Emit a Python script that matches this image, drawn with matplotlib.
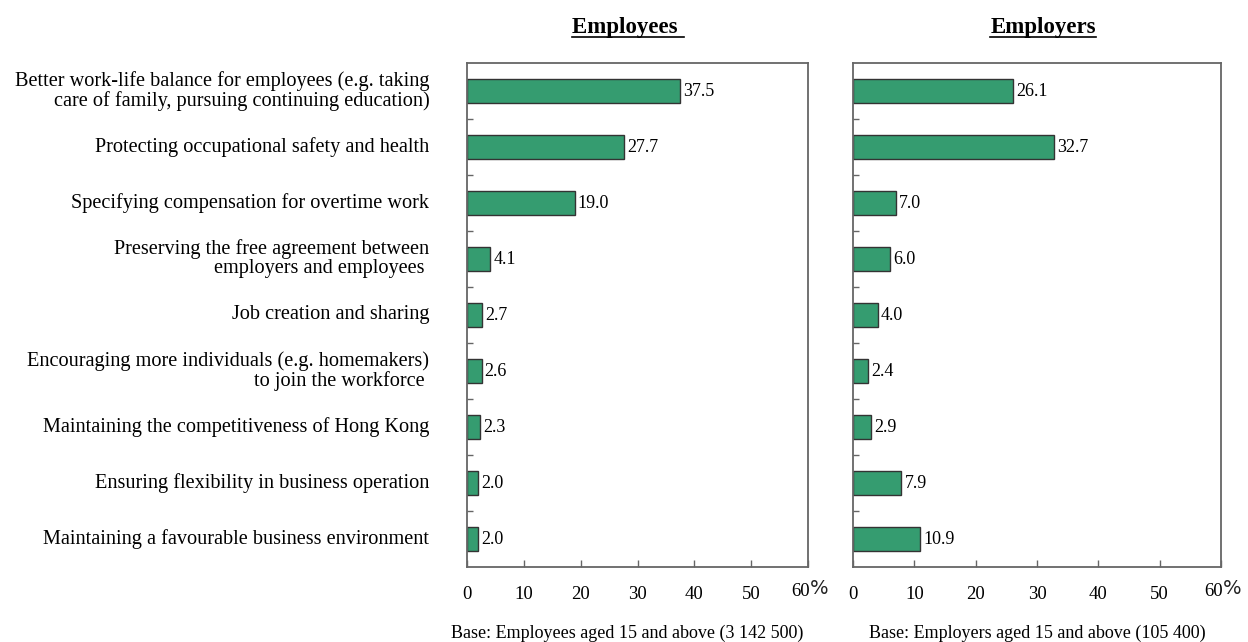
import matplotlib

matplotlib.use("Agg")
import matplotlib.pyplot as plt
from matplotlib.lines import Line2D
from matplotlib.ticker import FixedLocator
from matplotlib.transforms import offset_copy

plt.rcParams["font.family"] = ["Liberation Serif", "DejaVu Serif"]

categories = [
    "Better work-life balance for employees (e.g. taking\ncare of family, pursuing continuing education)",
    "Protecting occupational safety and health",
    "Specifying compensation for overtime work",
    "Preserving the free agreement between\nemployers and employees ",
    "Job creation and sharing",
    "Encouraging more individuals (e.g. homemakers)\nto join the workforce ",
    "Maintaining the competitiveness of Hong Kong",
    "Ensuring flexibility in business operation",
    "Maintaining a favourable business environment",
]
employees = [37.5, 27.7, 19.0, 4.1, 2.7, 2.6, 2.3, 2.0, 2.0]
employers = [26.1, 32.7, 7.0, 6.0, 4.0, 2.4, 2.9, 7.9, 10.9]
titles = ["Employees ", "Employers"]
bases = [
    "Base: Employees aged 15 and above (3 142 500)",
    "Base: Employers aged 15 and above (105 400)",
]
xticks = [0, 10, 20, 30, 40, 50, 60]

BAR_COLOR = "#359c70"
SPINE_COLOR = "#666666"

W, H = 1248, 642
fig = plt.figure(figsize=(W / 100, H / 100), dpi=100)

# axes boxes in pixels: left, right, top, bottom
boxes = [(467, 808, 63, 567), (853, 1221, 63, 567)]
title_x = [628, 1043]
base_x = [627, 1037]
axes = []
for (l, r, t, b) in boxes:
    axes.append(fig.add_axes([l / W, 1 - b / H, (r - l) / W, (b - t) / H]))

n = len(categories)
ypos = list(range(n))

for i, (ax, vals) in enumerate(zip(axes, [employees, employers])):
    ax.barh(ypos, vals, height=0.42, color=BAR_COLOR, edgecolor="#333333", linewidth=1.0)
    for y, v in zip(ypos, vals):
        ax.text(v + 0.5, y, f"{v:.1f}", va="center", ha="left", fontsize=13)
    ax.set_xlim(0, 60)
    ax.set_ylim(n - 0.5, -0.5)
    ax.set_xticks(xticks)
    # last tick label is drawn by hand as "60%"
    ax.set_xticklabels([str(t) for t in xticks[:-1]] + [""], fontsize=13.5)
    ax.tick_params(axis="x", direction="in", length=5, width=1, color=SPINE_COLOR, pad=14)
    ax.set_yticks([])
    ax.yaxis.set_minor_locator(FixedLocator([k + 0.5 for k in range(n - 1)]))
    ax.tick_params(axis="y", which="minor", direction="in", length=4, width=1, color=SPINE_COLOR)
    for s in ax.spines.values():
        s.set_color(SPINE_COLOR)
        s.set_linewidth(1.3)

    tr = ax.get_xaxis_transform()
    ax.text(xticks[-1], 0, "60", fontsize=13.5, ha="right", va="center",
            transform=offset_copy(tr, fig=fig, x=2, y=-25, units="dots"))
    ax.text(xticks[-1], 0, "%", fontsize=14, ha="left", va="center",
            fontfamily="DejaVu Sans", color="#222222",
            transform=offset_copy(tr, fig=fig, x=2, y=-21, units="dots"))

    fig.text(base_x[i] / W, 1 - 633 / H, bases[i], ha="center", va="center", fontsize=13)
    tt = fig.text(title_x[i] / W, 1 - 27 / H, titles[i], ha="center", va="center",
                  fontsize=16.5, fontweight="bold")
    tt._underline = True

ax = axes[0]
for y, lab in zip(ypos, categories):
    ax.text(-0.11, y, lab, transform=ax.get_yaxis_transform(), ha="right", va="center",
            multialignment="right", fontsize=14.6, linespacing=1.0)

# underline the panel titles
fig.canvas.draw()
renderer = fig.canvas.get_renderer()
for txt in fig.texts:
    if getattr(txt, "_underline", False):
        bb = txt.get_window_extent(renderer)
        yy = (bb.y0 + 1) / H
        fig.add_artist(Line2D([bb.x0 / W, bb.x1 / W], [yy, yy], transform=fig.transFigure,
                              color="black", linewidth=1.2))

fig.savefig("out.png", dpi=100)
